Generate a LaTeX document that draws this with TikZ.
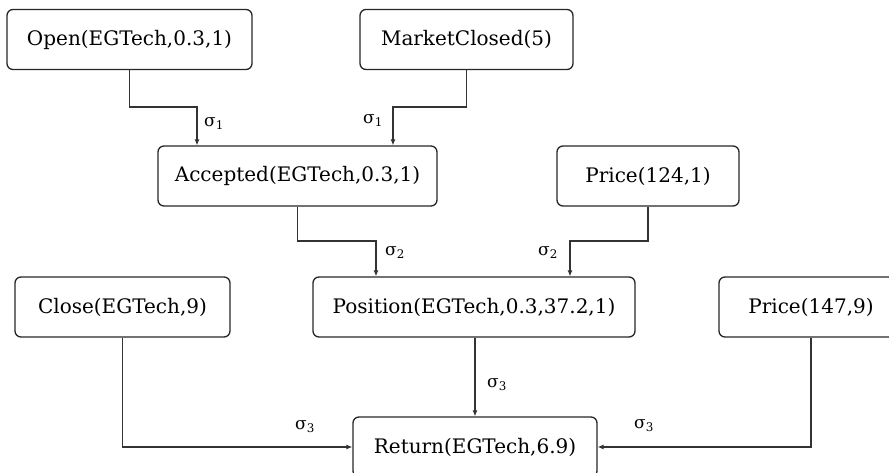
\documentclass[tikz,border=0pt]{standalone}
\usepackage{fontspec}
\setmainfont{DejaVu Serif}
\usetikzlibrary{arrows.meta}
\begin{document}
\begin{tikzpicture}[x=1pt,y=-1pt,
  box/.style={draw=black!85,line width=1.3pt,rounded corners=6pt,
    minimum height=60pt,inner sep=0pt,font=\fontsize{20}{24}\selectfont},
  arr/.style={draw=black!80,line width=1.1pt,-{Latex[length=6pt,width=5pt]}},
  lbl/.style={font=\fontsize{17}{20}\selectfont,inner sep=0pt}]
\useasboundingbox (0,0) rectangle (889,473);
\clip (0,0) rectangle (889,473);
% event boxes
\node[box,minimum width=245pt] (open)  at (129.5,39.5) {Open(EGTech,0.3,1)};
\node[box,minimum width=213pt] (mkt)   at (466.5,39.5) {MarketClosed(5)};
\node[box,minimum width=279pt] (acc)   at (297.5,176)  {Accepted(EGTech,0.3,1)};
\node[box,minimum width=182pt] (p124)  at (648,176)    {Price(124,1)};
\node[box,minimum width=215pt] (close) at (122.5,307)  {Close(EGTech,9)};
\node[box,minimum width=322pt] (pos)   at (474,307)    {Position(EGTech,0.3,37.2,1)};
\node[box,minimum width=184pt] (p147)  at (811,307)    {Price(147,9)};
\node[box,minimum width=244pt] (ret)   at (475,447)    {Return(EGTech,6.9)};
% bend points of the connectors
\coordinate (b1) at (197,107);
\coordinate (b2) at (393,107);
\coordinate (b3) at (376,241);
\coordinate (b4) at (570,241);
\coordinate (b5) at (122.5,447);
\coordinate (b6) at (811,447);
% connectors
\draw[arr] (open.south) |- (b1) -- (b1 |- acc.north);
\draw[arr] (mkt.south)  |- (b2) -- (b2 |- acc.north);
\draw[arr] (acc.south)  |- (b3) -- (b3 |- pos.north);
\draw[arr] (p124.south) |- (b4) -- (b4 |- pos.north);
\draw[arr] (pos.south -| ret.north) -- (ret.north);
\draw[arr] (close.south) -- (b5) -- (ret.west);
\draw[arr] (p147.south) -- (b6) -- (ret.east);
% rule labels
\node[lbl] (l1) at (214,124) {σ\textsubscript{1}};
\node[lbl] (l2) at (373,121) {σ\textsubscript{1}};
\node[lbl] (l3) at (395,253) {σ\textsubscript{2}};
\node[lbl] (l4) at (548,253) {σ\textsubscript{2}};
\node[lbl] (l5) at (497,385) {σ\textsubscript{3}};
\node[lbl] (l6) at (305,427) {σ\textsubscript{3}};
\node[lbl] (l7) at (644,426) {σ\textsubscript{3}};
\end{tikzpicture}
\end{document}
